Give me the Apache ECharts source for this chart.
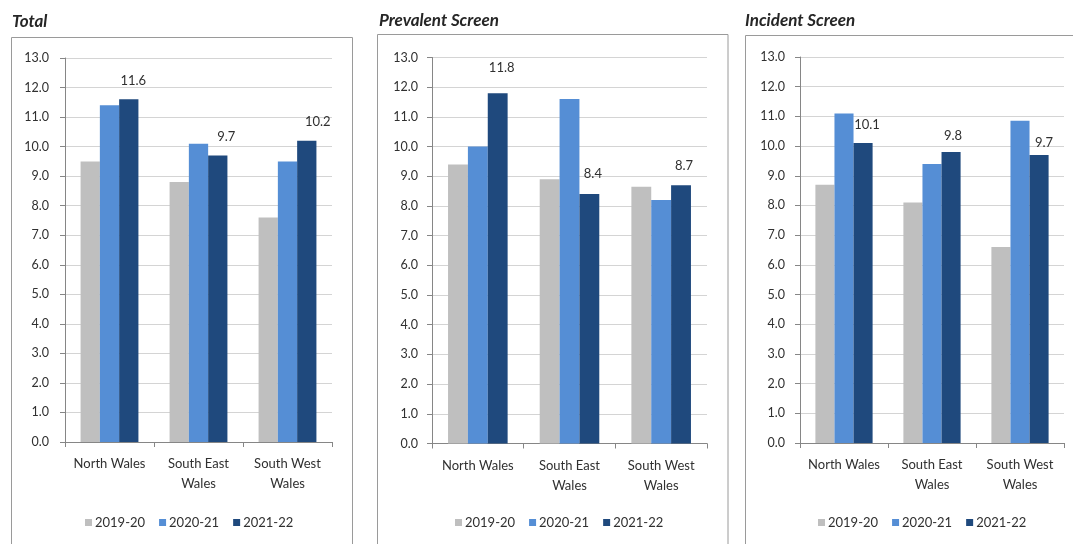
<!DOCTYPE html>
<html>
<head>
<meta charset="utf-8">
<title>Screening rates by region</title>
<script src="https://cdn.jsdelivr.net/npm/echarts@6/dist/echarts.min.js"></script>
<style>
  html, body { margin: 0; padding: 0; background: #ffffff; }
  #chart { width: 1073px; height: 544px; }
</style>
</head>
<body>
<div id="chart"></div>
<script>
// Regions and reporting years
const categories = ['North Wales', 'South East\nWales', 'South West\nWales'];
const years = ['2019-20', '2020-21', '2021-22'];
const yTicks = [0, 13, 1]; // min, max, step

// Total
const total2019 = [9.5, 8.8, 7.6];
const total2020 = [11.4, 10.1, 9.5];
const total2021 = [11.6, 9.7, 10.2];

// Prevalent screen
const prev2019 = [9.4, 8.9, 8.65];
const prev2020 = [10.0, 11.6, 8.2];
const prev2021 = [11.8, 8.4, 8.7];

// Incident screen
const inc2019 = [8.7, 8.1, 6.6];
const inc2020 = [11.1, 9.4, 10.85];
const inc2021 = [10.1, 9.8, 9.7];

const panelTitles = ['Total', 'Prevalent Screen', 'Incident Screen'];
const panelData = [
  [total2019, total2020, total2021],
  [prev2019, prev2020, prev2021],
  [inc2019, inc2020, inc2021]
];

// Layout of each panel (pixels)
const layout = [
  { box: [11.5, 37.5, 341, 540], title: [12, 13], grid: { left: 65, top: 58, width: 267, height: 384 }, legendLeft: 80,
    labelShift: [[4.5, -12], [8.5, -12], [11, -12.5]], yMargin: 16 },
  { box: [377.5, 34.5, 350.5, 540], title: [379, 12], grid: { left: 432, top: 57.5, width: 275, height: 386 }, legendLeft: 450,
    labelShift: [[4, -18.5], [3.5, -14], [3, -12.5]], yMargin: 14 },
  { box: [745.5, 35.5, 340, 540], title: [745, 12], grid: { left: 800, top: 57, width: 264, height: 386 }, legendLeft: 813,
    labelShift: [[4, -12], [2, -9.5], [5, -5.5]], yMargin: 15 }
];

const colors = ['#bfbfbf', '#558ed5', '#1f497d'];
const font = 'Lato, "Open Sans", sans-serif';
const textColor = '#303030';

const option = {
  animation: false,
  backgroundColor: '#ffffff',
  color: colors,
  title: [], grid: [], xAxis: [], yAxis: [], legend: [], series: [],
  graphic: []
};

layout.forEach((p, i) => {
  option.graphic.push({
    type: 'rect', silent: true, z: -1,
    shape: { x: p.box[0], y: p.box[1], width: p.box[2], height: p.box[3] },
    style: { fill: '#ffffff', stroke: '#9a9a9a', lineWidth: 1 }
  });
  option.title.push({
    text: panelTitles[i], left: p.title[0], top: p.title[1], padding: 0,
    textStyle: { fontFamily: font, fontSize: 17, fontStyle: 'italic', fontWeight: 'bold', color: '#262626' }
  });
  option.grid.push(Object.assign({ containLabel: false }, p.grid));
  option.xAxis.push({
    type: 'category', gridIndex: i, data: categories,
    axisLine: { lineStyle: { color: '#868686', width: 1 } },
    axisTick: { show: true, length: 5, lineStyle: { color: '#868686' } },
    axisLabel: { color: textColor, fontFamily: font, fontSize: 13, lineHeight: 20, margin: 12, interval: 0 },
    splitLine: { show: false }
  });
  option.yAxis.push({
    type: 'value', gridIndex: i, min: yTicks[0], max: yTicks[1], interval: yTicks[2],
    axisLine: { show: true, lineStyle: { color: '#868686', width: 1 } },
    axisTick: { show: true, length: 5, lineStyle: { color: '#868686' } },
    axisLabel: { color: textColor, fontFamily: font, fontSize: 12.5, margin: p.yMargin, formatter: v => v.toFixed(1) },
    splitLine: { show: true, lineStyle: { color: '#d4d4d4', width: 1 } }
  });
  option.legend.push({
    data: years, left: p.legendLeft, top: 511, orient: 'horizontal',
    icon: 'rect', itemWidth: 7, itemHeight: 7, itemGap: 14,
    textStyle: { color: textColor, fontFamily: font, fontSize: 13, padding: [0, 0, 0, -2] },
    selectedMode: false
  });
  panelData[i].forEach((vals, s) => {
    const series = {
      type: 'bar', name: years[s], xAxisIndex: i, yAxisIndex: i,
      data: vals, barGap: '0%', barCategoryGap: '35%',
      itemStyle: { color: colors[s] }
    };
    if (s === 2) {
      series.data = vals.map((v, k) => ({
        value: v,
        label: { offset: p.labelShift[k] }
      }));
      series.label = {
        show: true, position: 'top', distance: 0,
        color: textColor, fontFamily: font, fontSize: 13,
        formatter: d => Number(d.value).toFixed(1)
      };
    }
    option.series.push(series);
  });
});

const chart = echarts.init(document.getElementById('chart'), null, { renderer: 'canvas' });
chart.setOption(option);
</script>
</body>
</html>
